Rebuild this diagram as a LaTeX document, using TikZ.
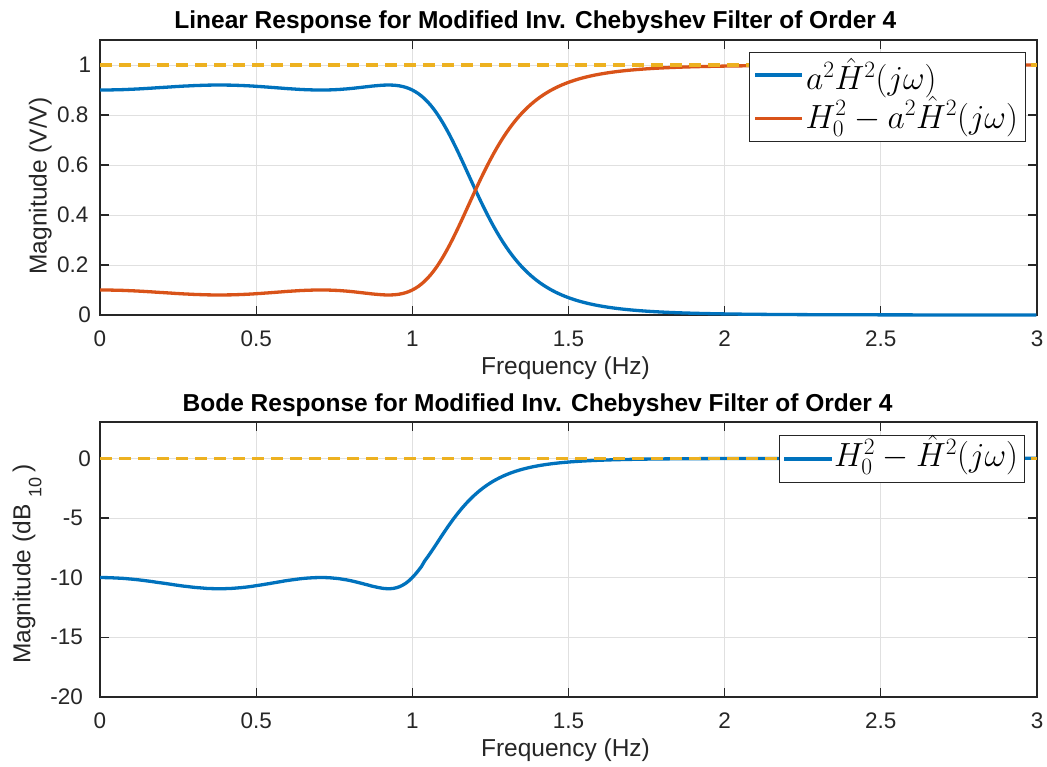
\RequirePackage{fix-cm}
\documentclass[tikz,border=0pt]{standalone}
\usepackage[no-math]{fontspec}
\newfontfamily\arial{Liberation Sans}
\definecolor{mblue}{RGB}{0,114,189}
\definecolor{morange}{RGB}{217,83,25}
\definecolor{myellow}{RGB}{237,177,32}
\definecolor{axgray}{RGB}{38,38,38}
\definecolor{gridgray}{RGB}{224,224,224}

\begin{document}
\begin{tikzpicture}[x=1pt,y=-1pt,
  declare function={
    T(\t)=8*\t*\t*\t*\t-8*\t*\t+1;
    U(\t)=0.149071*T(\t);
    B(\t)=0.92/(1+U(\t)*U(\t));
  },
  ticklbl/.style={font=\arial\fontsize{22.5}{27}\selectfont, text=axgray, inner sep=0pt},
  axlbl/.style={font=\arial\fontsize{24.5}{29}\selectfont, text=axgray, inner sep=0pt},
  ttl/.style={font=\arial\bfseries\fontsize{24.5}{29}\selectfont, text=black, inner sep=0pt},
  gridline/.style={draw=gridgray, line width=0.9pt},
  axbox/.style={draw=axgray, line width=1.1pt},
  curve/.style={line width=3.3pt, line join=round},
  refline/.style={draw=myellow, line width=3.3pt, dash pattern=on 12pt off 7pt},
  legbox/.style={draw=axgray, line width=1pt, fill=white},
  legtxt/.style={font=\fontsize{33.5}{38}\selectfont, inner sep=0pt},
]
\fill[white] (0,0) rectangle (1047,766);
\useasboundingbox (0,0) rectangle (1047,766);

% ---------------- linear response axes ----------------
\foreach \v in {0.2,0.4,0.6,0.8,1}
  \draw[gridline] (100,{315-250*\v}) -- (1037,{315-250*\v});
\foreach \f in {0.5,1,1.5,2,2.5}
  \draw[gridline] ({100+312.333*\f},40) -- ({100+312.333*\f},315);
\draw[axbox] (100,40) rectangle (1037,315);
\foreach \f in {0,0.5,1,1.5,2,2.5,3} {
  \draw[axbox] ({100+312.333*\f},315) -- ++(0,-9.4);
  \draw[axbox] ({100+312.333*\f},40) -- ++(0,9.4);
}
\foreach \v in {0,0.2,0.4,0.6,0.8,1} {
  \draw[axbox] (100,{315-250*\v}) -- ++(9.4,0);
  \draw[axbox] (1037,{315-250*\v}) -- ++(-9.4,0);
}
% x tick labels
\node[ticklbl, anchor=base] (tx0) at (100,346.3) {0};
\node[ticklbl, anchor=base] (tx1) at (256.2,346.3) {0.5};
\node[ticklbl, anchor=base] (tx2) at (412.3,346.3) {1};
\node[ticklbl, anchor=base] (tx3) at (568.5,346.3) {1.5};
\node[ticklbl, anchor=base] (tx4) at (724.7,346.3) {2};
\node[ticklbl, anchor=base] (tx5) at (880.8,346.3) {2.5};
\node[ticklbl, anchor=base] (tx6) at (1037,346.3) {3};
% y tick labels
\node[ticklbl, anchor=east] (ty0) at (91,315) {0};
\node[ticklbl, anchor=east] (ty1) at (88.5,265) {0.2};
\node[ticklbl, anchor=east] (ty2) at (88.5,215) {0.4};
\node[ticklbl, anchor=east] (ty3) at (88.5,165) {0.6};
\node[ticklbl, anchor=east] (ty4) at (88.5,115) {0.8};
\node[ticklbl, anchor=east] (ty5) at (91.4,65) {1};
% labels and title
\node[axlbl, anchor=base] (xlabA) at (565.5,374) {Frequency (Hz)};
\node[axlbl, rotate=90, anchor=base] (ylabA) at (46.5,186) {Magnitude (V/V)};
\node[ttl, anchor=base west] (titleA) at (174.2,28.5)
  {Linear Response for Modified Inv. Chebyshev Filter of Order 4};
% data
\draw[curve, mblue] plot[domain=0:3, samples=301]
  ({100+312.333*\x},{315-250*B(\x)});
\draw[curve, morange] plot[domain=0:3, samples=301]
  ({100+312.333*\x},{315-250*(1-B(\x))});
\draw[refline] (100,65) -- (1037,65);
% legend
\draw[legbox] (749.5,52.5) rectangle (1025,141);
\coordinate (lgA1a) at (755,75);
\coordinate (lgA1b) at (801.7,75);
\coordinate (lgA2a) at (755,118.3);
\coordinate (lgA2b) at (801.7,118.3);
\draw[curve, mblue] (lgA1a) -- (lgA1b);
\draw[curve, morange] (lgA2a) -- (lgA2b);
\node[legtxt, anchor=base west] (lgA1) at (806,89.5) {$a^2\hat{H}^2(j\omega)$};
\node[legtxt, anchor=base west] (lgA2) at (805.5,128) {$H_0^2-a^2\hat{H}^2(j\omega)$};

% ---------------- Bode response axes ----------------
\foreach \v in {0,-5,-10,-15}
  \draw[gridline] (100,{458.3-11.933*\v}) -- (1037,{458.3-11.933*\v});
\foreach \f in {0.5,1,1.5,2,2.5}
  \draw[gridline] ({100+312.333*\f},422) -- ({100+312.333*\f},697);
\draw[axbox] (100,422) rectangle (1037,697);
\foreach \f in {0,0.5,1,1.5,2,2.5,3} {
  \draw[axbox] ({100+312.333*\f},697) -- ++(0,-9.4);
  \draw[axbox] ({100+312.333*\f},422) -- ++(0,9.4);
}
\foreach \v in {0,-5,-10,-15,-20} {
  \draw[axbox] (100,{458.3-11.933*\v}) -- ++(9.4,0);
  \draw[axbox] (1037,{458.3-11.933*\v}) -- ++(-9.4,0);
}
\node[ticklbl, anchor=base] (bx0) at (100,728) {0};
\node[ticklbl, anchor=base] (bx1) at (256.2,728) {0.5};
\node[ticklbl, anchor=base] (bx2) at (412.3,728) {1};
\node[ticklbl, anchor=base] (bx3) at (568.5,728) {1.5};
\node[ticklbl, anchor=base] (bx4) at (724.7,728) {2};
\node[ticklbl, anchor=base] (bx5) at (880.8,728) {2.5};
\node[ticklbl, anchor=base] (bx6) at (1037,728) {3};
\node[ticklbl, anchor=east] (by0) at (91,458.3) {0};
\node[ticklbl, anchor=east] (by1) at (83,518) {-5};
\node[ticklbl, anchor=east] (by2) at (83,577.6) {-10};
\node[ticklbl, anchor=east] (by3) at (83,637.3) {-15};
\node[ticklbl, anchor=east] (by4) at (83,697) {-20};
\node[axlbl, anchor=base] (xlabB) at (565.5,756) {Frequency (Hz)};
\node[axlbl, rotate=90, anchor=base west] (ylabB) at (30.5,664)
  {Magnitude (dB\hspace{7pt}\raisebox{-11pt}{\fontsize{18}{20}\selectfont 10}\hspace{5pt})};
\node[ttl, anchor=base west] (titleB) at (182.5,411.5)
  {Bode Response for Modified Inv. Chebyshev Filter of Order 4};
\draw[curve, mblue] plot[domain=0:3, samples=301]
  ({100+312.333*\x},{458.3-119.33*log10(1-B(\x))});
\draw[refline] (100,458.3) -- (1037,458.3);
\draw[legbox] (779,435) rectangle (1024.3,482.3);
\coordinate (lgB1a) at (784.3,459);
\coordinate (lgB1b) at (831.7,459);
\draw[curve, mblue] (lgB1a) -- (lgB1b);
\node[legtxt, anchor=base west] (lgB1) at (834,466.7) {$H_0^2-\hat{H}^2(j\omega)$};
\end{tikzpicture}
\end{document}
